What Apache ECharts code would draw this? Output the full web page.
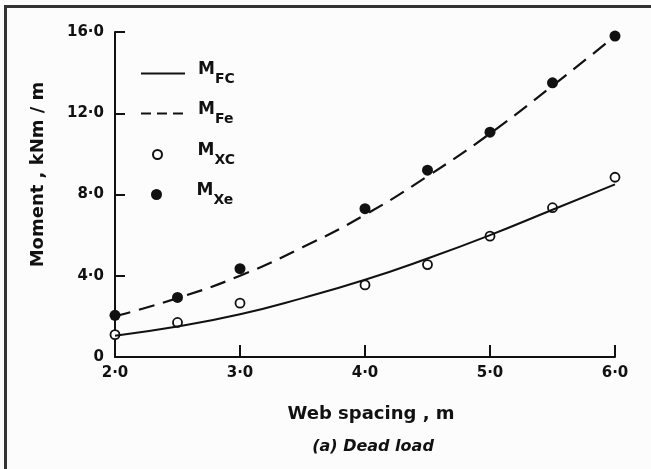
<!DOCTYPE html>
<html>
<head>
<meta charset="utf-8">
<script src="https://cdn.jsdelivr.net/npm/echarts@6/dist/echarts.min.js"></script>
<style>
  html, body { margin: 0; padding: 0; background: #fcfcfc; }
  #main { position: relative; width: 651px; height: 469px; }
  #frame { position: absolute; left: 4px; top: 5px; right: 0; bottom: 0;
           border-left: 3px solid #333; border-top: 3px solid #333; pointer-events: none; }
</style>
</head>
<body>
<div id="main"></div>
<div id="frame"></div>
<script>
// web spacing (m) for fitted curves
var curveX = [2.0, 2.5, 3.0, 3.5, 4.0, 4.5, 5.0, 5.5, 6.0];
var mFC = [1.05, 1.5, 2.1, 2.9, 3.8, 4.85, 6.0, 7.25, 8.5];
var mFe = [2.0, 2.9, 4.0, 5.4, 7.0, 8.9, 11.0, 13.35, 15.8];
// measured points
var pointX = [2.0, 2.5, 3.0, 4.0, 4.5, 5.0, 5.5, 6.0];
var mXC = [1.1, 1.7, 2.65, 3.55, 4.55, 5.95, 7.35, 8.85];
var mXe = [2.05, 2.93, 4.35, 7.3, 9.2, 11.07, 13.5, 15.8];
var xTicks = [2, 3, 4, 5, 6];
var yTicks = [0, 4, 8, 12, 16];

var FONT = 'DejaVu Sans';

function pairs(xs, ys) {
    return xs.map(function (x, i) { return [x, ys[i]]; });
}
function dotNum(v) {
    return v === 0 ? '0' : v.toFixed(1).replace('.', '\u00b7');
}

var legendRich = {
    m: { fontFamily: FONT, fontWeight: 'bold', fontSize: 17, color: '#111', verticalAlign: 'bottom', padding: [0, 0, 8, 0] },
    s: { fontFamily: FONT, fontWeight: 'bold', fontSize: 14, color: '#111', verticalAlign: 'bottom' }
};
function subLabel(name) {
    return '{m|M}{s|' + name.slice(1) + '}';
}
function oneLegend(name, left, top, lineOnly, textPad, iconH, dash) {
    var item = { name: name };
    // line series: keep the stroke, hide the marker dot
    if (lineOnly) item.itemStyle = { opacity: 0 };
    if (dash) item.lineStyle = { type: dash };
    return {
        data: [item],
        left: left,
        top: top,
        itemWidth: 44,
        itemHeight: iconH,
        itemGap: 0,
        selectedMode: false,
        formatter: subLabel,
        textStyle: { rich: legendRich, padding: [0, 0, 0, textPad] }
    };
}

var chart = echarts.init(document.getElementById('main'));
var option = {
    backgroundColor: 'transparent',
    animation: false,
    grid: { left: 115, right: 36, top: 32, bottom: 112 },
    legend: [
        oneLegend('MFC', 135, 56, true, 8, 9),
        oneLegend('MFe', 135, 96, true, 8, 9, [10, 6]),
        oneLegend('MXC', 147, 137, false, 13, 9),
        oneLegend('MXe', 146, 177, false, 13, 11)
    ],
    title: {
        text: '(a) Dead load',
        left: 368,
        textAlign: 'center',
        top: 434,
        textStyle: { fontFamily: FONT, fontStyle: 'italic', fontWeight: 'bold', fontSize: 16, color: '#111' }
    },
    xAxis: {
        type: 'value',
        min: 2, max: 6, interval: 1,
        name: 'Web spacing , m',
        nameLocation: 'middle',
        nameGap: 48,
        nameTextStyle: { fontFamily: FONT, fontWeight: 'bold', fontSize: 18, color: '#111', padding: [0, 0, 0, 12] },
        axisLine: { lineStyle: { color: '#111', width: 2 } },
        axisTick: { inside: true, length: 12, lineStyle: { color: '#111', width: 2 } },
        axisLabel: { formatter: dotNum, margin: 9, fontFamily: FONT, fontWeight: 'bold', fontSize: 15, color: '#111' },
        splitLine: { show: false }
    },
    yAxis: {
        type: 'value',
        min: 0, max: 16, interval: 4,
        name: 'Moment , kNm / m',
        nameLocation: 'middle',
        nameGap: 68,
        nameTextStyle: { fontFamily: FONT, fontWeight: 'bold', fontSize: 18, color: '#111', padding: [0, 0, 0, 40] },
        axisLine: { lineStyle: { color: '#111', width: 2 } },
        axisTick: { inside: true, length: 10, lineStyle: { color: '#111', width: 2 } },
        axisLabel: { formatter: dotNum, margin: 11, fontFamily: FONT, fontWeight: 'bold', fontSize: 15, color: '#111' },
        splitLine: { show: false }
    },
    series: [{
        name: 'MFC',
        type: 'line',
        smooth: 0.5,
        symbol: 'none',
        lineStyle: { color: '#111', width: 2 },
        itemStyle: { color: '#111' },
        data: pairs(curveX, mFC)
    }, {
        name: 'MFe',
        type: 'line',
        smooth: 0.5,
        symbol: 'none',
        lineStyle: { color: '#111', width: 2.2, type: [16, 9] },
        itemStyle: { color: '#111' },
        data: pairs(curveX, mFe)
    }, {
        name: 'MXC',
        type: 'scatter',
        symbol: 'circle',
        symbolSize: 9,
        itemStyle: { color: '#fff', borderColor: '#111', borderWidth: 1.8, opacity: 1 },
        data: pairs(pointX, mXC)
    }, {
        name: 'MXe',
        type: 'scatter',
        symbol: 'circle',
        symbolSize: 11,
        itemStyle: { color: '#111', opacity: 1 },
        data: pairs(pointX, mXe)
    }]
};
chart.setOption(option);
</script>
</body>
</html>
